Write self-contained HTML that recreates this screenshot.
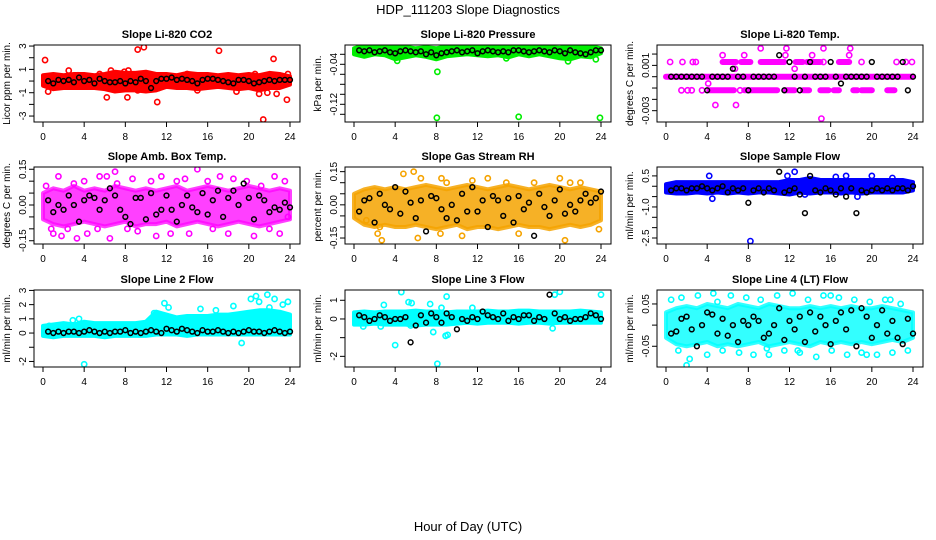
<!DOCTYPE html>
<html><head><meta charset="utf-8">
<style>
html,body{margin:0;padding:0;background:#fff;}
svg{display:block;font-family:"Liberation Sans",Arial,sans-serif;}
</style></head>
<body>
<svg id="chart" width="936" height="540" viewBox="0 0 936 540" xmlns="http://www.w3.org/2000/svg">
<rect x="0" y="0" width="936" height="540" fill="#fff"/>
<text x="468" y="14" font-size="13" text-anchor="middle">HDP_111203  Slope Diagnostics</text>
<text x="468" y="531" font-size="13" text-anchor="middle">Hour of Day (UTC)</text>
</svg>
<script>
// shared hours
const bandHours = [0,1,2,3,4,5,6,7,8,9,10,11,12,13,14,15,16,17,18,19,20,21,22,23,24];
const blkHours = [0.5,1,1.5,2,2.5,3,3.5,4,4.5,5,5.5,6,6.5,7,7.5,8,8.5,9,9.5,10,10.5,11,11.5,12,12.5,13,13.5,14,14.5,15,15.5,16,16.5,17,17.5,18,18.5,19,19.5,20,20.5,21,21.5,22,22.5,23,23.5,24];
const xTicks = [0,4,8,12,16,20,24];

// Panel 1: Li-820 CO2
const p1Hi = [0.5,0.6,0.5,0.6,0.6,0.5,0.6,0.8,0.7,0.7,0.8,0.6,0.6,0.5,0.7,0.6,0.6,0.5,0.6,0.5,0.6,0.5,0.7,0.6,0.4];
const p1Lo = [-0.4,-0.7,-0.6,-0.6,-0.6,-0.6,-0.7,-0.9,-0.8,-0.8,-0.9,-0.8,-0.5,-0.6,-0.6,-0.7,-0.6,-0.5,-0.6,-0.7,-0.6,-0.8,-0.6,-0.6,-0.3];
const p1PtH = [0.2,0.5,2.5,6.2,6.6,8.2,8.3,9.2,9.8,9.2,11.1,11.2,17.1,18.8,21,21.4,22.4,22.7,23.7,21.8,23.8,5.5,14,20.6,15,3.4,7.9];
const p1PtV = [1.8,-0.9,0.9,-1.4,0.9,-1.4,0.9,2.7,2.9,-0.8,-1.8,-0.6,2.6,-0.9,-1.1,-3.3,1.9,-1.1,-1.6,-1.0,0.6,0.6,0.6,0.6,-0.8,0.5,0.8];
const p1Blk = [0.0,-0.2,0.1,0.0,0.1,-0.1,0.3,0.0,0.1,-0.2,0.2,0.0,-0.1,-0.1,0.0,-0.2,0.0,-0.1,0.2,0.0,-0.6,0.0,0.2,0.2,0.3,0.1,0.2,0.1,0.0,-0.2,0.1,0.2,0.2,0.1,0.0,-0.1,-0.2,0.1,0.1,0.0,-0.2,-0.1,0.0,0.1,0.0,0.1,0.1,0.1];
const p1Ticks = [-3,-2,-1,0,1,2,3];
const p1Labels = ["-3","","-1","","1","","3"];

// Panel 2: Li-820 Pressure
const p2Hi = [-0.008,-0.002,-0.004,-0.002,-0.004,-0.005,-0.008,-0.006,-0.008,-0.004,-0.006,-0.006,-0.004,-0.002,-0.004,-0.006,-0.002,-0.006,-0.005,-0.006,-0.007,-0.002,-0.003,-0.004,-0.008];
const p2Lo = [-0.02,-0.025,-0.02,-0.022,-0.03,-0.026,-0.022,-0.025,-0.03,-0.024,-0.022,-0.02,-0.022,-0.024,-0.022,-0.026,-0.02,-0.024,-0.02,-0.024,-0.028,-0.03,-0.024,-0.026,-0.018];
const p2PtH = [8.1,8.05,16,23.9,4.2,20.8,23.5,14.8,1.0,21.7];
const p2PtV = [-0.055,-0.147,-0.145,-0.147,-0.033,-0.034,-0.03,-0.028,0.0,0.0];
const p2Blk = [-0.012,-0.014,-0.012,-0.016,-0.014,-0.012,-0.016,-0.018,-0.014,-0.012,-0.014,-0.016,-0.014,-0.02,-0.016,-0.022,-0.018,-0.016,-0.014,-0.012,-0.016,-0.014,-0.012,-0.018,-0.014,-0.012,-0.014,-0.016,-0.014,-0.016,-0.012,-0.012,-0.014,-0.016,-0.014,-0.012,-0.014,-0.016,-0.012,-0.014,-0.018,-0.012,-0.016,-0.018,-0.020,-0.016,-0.012,-0.012];
const p2Ticks = [-0.14,-0.12,-0.10,-0.08,-0.06,-0.04,-0.02];
const p2Labels = ["","-0.12","","","","-0.04",""];

// Panel 3: Li-820 Temp (quantized)
const p3RunStart = [0,5.5,7.3,9.2,12.6,13.7,16.8,4.2,7.6,11.6,13.3,15,16.3,18.2,19,21.5];
const p3RunEnd = [24,6.8,8.2,11.5,13.3,15,17.8,6.6,10.8,12.5,13.9,15.8,16.8,18.6,20,22.2];
const p3RunLevel = [0,0.0013,0.0013,0.0013,0.0013,0.0013,0.0013,-0.0012,-0.0012,-0.0012,-0.0012,-0.0012,-0.0012,-0.0012,-0.0012,-0.0012];
const p3PtH = [0.4,1.6,2.6,2.9,15.3,19,22.4,23.3,5.5,7.6,11.6,14.2,17.8,9.2,11.7,15.3,17.9,6.7,12.5,1.5,2.1,2.5,3.5,7.2,4.1,4.8,6.8,15.1,23.9];
const p3PtV = [0.0013,0.0013,0.0013,0.0013,0.0013,0.0013,0.0013,0.0013,0.0019,0.0019,0.0019,0.0019,0.0019,0.0025,0.0025,0.0025,0.0025,0.0007,0.0007,-0.0012,-0.0012,-0.0012,-0.0012,-0.0012,-0.0006,-0.0025,-0.0025,-0.0037,0.0013];
const p3Blk = [0,0,0,0,0,0,0,-0.0012,0,0,0,0,0.0007,0,0,-0.0012,0,0,0,0,0,0.0019,-0.0012,0.0013,0,-0.0012,0,0.0013,0,0,0,0.0013,0,-0.0006,0,0,0,0,0,0.0013,0,0,0,0,0,0.0013,-0.0012,0];
const p3Ticks = [-0.003,-0.002,-0.001,0,0.001,0.002];
const p3Labels = ["-0.003","","","","0.001",""];

// Panel 4: Amb. Box Temp
const p4Hi = [0.05,0.07,0.06,0.08,0.06,0.07,0.06,0.08,0.07,0.06,0.07,0.06,0.07,0.08,0.06,0.07,0.08,0.07,0.06,0.07,0.08,0.07,0.06,0.07,0.06];
const p4Lo = [-0.06,-0.08,-0.09,-0.08,-0.07,-0.08,-0.09,-0.08,-0.07,-0.09,-0.08,-0.08,-0.07,-0.09,-0.08,-0.07,-0.08,-0.09,-0.08,-0.07,-0.08,-0.09,-0.08,-0.07,-0.06];
const p4PtH = [0.3,0.8,1,1.5,1.8,2.4,3,3.3,4,4.3,5.3,5.5,6.2,6.5,7,7.2,8.2,8.7,9.2,10.5,11,11.5,12.4,13,13.8,14.2,15,16,16.5,17.2,18,18.5,19.8,20.5,21.2,22,22.5,23,23.5,23.8];
const p4PtV = [0.08,-0.1,-0.12,0.12,-0.13,-0.1,0.09,-0.14,0.1,-0.12,-0.1,0.12,0.12,-0.14,0.14,0.09,-0.1,0.11,-0.11,0.1,-0.13,0.12,-0.12,0.1,0.11,-0.12,0.15,0.1,-0.1,0.12,-0.12,0.11,0.1,-0.13,0.08,-0.1,0.12,-0.12,0.1,-0.05];
const p4Blk = [0.02,-0.03,0.0,-0.02,0.04,0.0,-0.07,0.02,0.04,0.03,-0.02,0.02,0.07,0.04,-0.02,-0.05,-0.08,0.03,0.03,-0.06,0.05,-0.04,-0.02,0.04,-0.02,-0.07,0.0,0.04,-0.01,-0.03,0.05,-0.04,0.02,0.06,-0.05,0.03,0.06,0.0,0.09,0.03,-0.06,0.04,0.02,-0.03,-0.01,-0.02,0.01,-0.01];
const p4Ticks = [-0.15,-0.10,-0.05,0,0.05,0.10,0.15];
const p4Labels = ["-0.15","","","0.00","","","0.15"];

// Panel 5: Gas Stream RH
const p5Hi = [0.05,0.07,0.08,0.07,0.08,0.07,0.08,0.09,0.08,0.07,0.08,0.09,0.08,0.07,0.08,0.09,0.08,0.07,0.08,0.09,0.08,0.07,0.08,0.07,0.06];
const p5Lo = [-0.06,-0.09,-0.1,-0.09,-0.1,-0.1,-0.09,-0.1,-0.11,-0.1,-0.09,-0.11,-0.1,-0.1,-0.11,-0.1,-0.09,-0.1,-0.1,-0.11,-0.1,-0.09,-0.1,-0.09,-0.07];
const p5PtH = [1.2,2.3,2.7,2.5,4.8,5.8,6.2,6.5,8.5,9,11.5,8.4,10.5,13,14.8,16,17.5,20,20.5,21,23.8,22];
const p5PtV = [-0.07,-0.13,-0.16,-0.1,0.14,0.15,-0.15,0.12,0.12,0.1,0.11,-0.13,-0.14,0.12,0.1,-0.13,0.1,0.12,-0.16,0.1,-0.11,0.1];
const p5Blk = [-0.03,0.02,0.03,-0.08,0.05,0.0,-0.02,0.08,-0.04,0.06,0.01,-0.06,0.02,-0.12,0.04,0.03,-0.02,-0.06,0.0,-0.07,0.05,-0.03,0.08,-0.03,0.02,-0.1,0.04,0.02,-0.05,0.03,-0.08,0.04,-0.02,0.01,-0.14,0.05,-0.01,-0.05,0.02,0.07,-0.04,0.0,-0.03,0.02,0.05,0.01,0.03,0.06];
const p5Ticks = [-0.15,-0.10,-0.05,0,0.05,0.10,0.15];
const p5Labels = ["-0.15","","","0.00","","","0.15"];

// Panel 6: Sample Flow
const p6Hi = [0.1,0.2,0.2,0.2,0.2,0.2,0.2,0.2,0.2,0.2,0.2,0.2,0.3,0.3,0.4,0.3,0.3,0.3,0.3,0.3,0.3,0.3,0.3,0.3,0.2];
const p6Lo = [-0.3,-0.35,-0.35,-0.3,-0.35,-0.3,-0.35,-0.3,-0.35,-0.3,-0.3,-0.35,-0.4,-0.3,-0.35,-0.3,-0.3,-0.35,-0.3,-0.35,-0.3,-0.3,-0.3,-0.3,-0.2];
const p6PtH = [8.2,11.8,12.5,17.5,4.2,4.5,13.5,20,22,16.5,18.6];
const p6PtV = [-2.65,0.5,0.7,0.5,0.5,-0.6,-0.4,0.5,0.4,0.45,-0.5];
const p6Blk = [-0.2,-0.1,-0.1,-0.2,-0.1,-0.1,0.0,-0.1,-0.2,-0.1,0.0,-0.3,-0.1,-0.2,-0.1,-0.8,-0.2,-0.1,-0.3,-0.1,-0.2,0.7,-0.3,-0.2,-0.1,-0.4,-1.3,0.5,-0.2,-0.3,-0.1,-0.2,-0.4,-0.1,-0.5,-0.1,-1.3,-0.2,-0.3,-0.2,-0.1,-0.2,-0.1,-0.2,-0.1,-0.1,-0.2,0.0];
const p6Ticks = [-2.5,-2.0,-1.5,-1.0,-0.5,0,0.5];
const p6Labels = ["-2.5","","","-1.0","","","0.5"];

// Panel 7: Line 2 Flow
const p7Hi = [0.5,0.6,0.7,0.6,0.8,0.7,0.7,0.7,0.7,0.7,0.8,1.5,1.3,1.1,1.2,1.2,1.2,1.3,1.3,1.4,1.5,1.6,1.6,1.5,1.3];
const p7Lo = [-0.2,-0.3,-0.2,-0.2,-0.2,-0.2,-0.3,-0.2,-0.2,-0.2,-0.2,-0.1,-0.1,-0.1,-0.2,-0.1,-0.1,-0.1,-0.1,-0.1,-0.1,-0.1,-0.1,-0.1,-0.1];
const p7PtH = [4,11.8,12.2,15.3,20.2,21,21.8,22.5,23.3,23.8,19.3,20.7,22,10.8,2.9,3.5,0.6,18.5,16.8];
const p7PtV = [-2.2,2.1,1.8,1.7,2.4,2.2,2.7,2.4,2.0,2.2,-0.7,2.6,1.8,1.4,0.9,1.0,0.5,1.9,1.6];
const p7Blk = [0.1,0.0,0.1,0.0,0.1,0.1,0.0,0.1,0.2,0.1,0.0,0.1,0.0,0.1,0.1,0.2,0.0,0.1,0.0,0.1,0.2,0.1,0.0,0.3,0.2,0.1,0.3,0.2,0.1,0.0,0.2,0.1,0.1,0.2,0.1,0.0,0.1,0.0,0.1,0.2,0.1,0.1,0.0,0.1,0.2,0.1,0.0,0.1];
const p7Ticks = [-2,-1,0,1,2,3];
const p7Labels = ["-2","","0","1","2","3"];

// Panel 8: Line 3 Flow
const p8Hi = [0.35,0.4,0.35,0.4,0.4,0.4,0.45,0.4,0.4,0.35,0.4,0.4,0.4,0.45,0.4,0.4,0.45,0.45,0.4,0.4,0.4,0.4,0.45,0.4,0.35];
const p8Lo = [-0.3,-0.3,-0.25,-0.3,-0.3,-0.3,-0.35,-0.3,-0.3,-0.3,-0.25,-0.2,-0.25,-0.2,-0.2,-0.2,-0.25,-0.2,-0.2,-0.25,-0.2,-0.2,-0.2,-0.2,-0.2];
const p8PtH = [4.6,2.9,5.3,5.6,7.4,9,8.5,11.5,19.5,20,24,4,8.1,8.9,9.1,7.7,19.3,2.6,0.9,5.5];
const p8PtV = [1.44,0.75,0.9,0.85,0.8,1.2,0.6,0.6,1.3,1.45,1.3,-1.4,-2.4,-0.9,-0.85,-0.7,-0.5,-0.4,-0.4,-0.35];
const p8Blk = [0.2,0.1,-0.1,0.0,0.2,0.1,-0.1,0.0,0.0,0.1,-1.25,-0.35,0.2,-0.2,0.3,0.1,-0.2,0.3,0.1,-0.55,0.0,-0.1,0.1,0.0,0.4,0.2,0.1,0.0,0.3,-0.1,0.1,0.0,0.2,0.2,-0.1,0.1,0.0,1.3,0.3,0.0,0.1,-0.1,0.0,0.0,0.1,0.3,0.2,0.0];
const p8Ticks = [-2,-1,0,1];
const p8Labels = ["-2","","0","1"];

// Panel 9: Line 4 (LT) Flow
const p9Hi = [0.03,0.04,0.045,0.04,0.05,0.045,0.04,0.05,0.045,0.04,0.05,0.045,0.04,0.04,0.045,0.04,0.045,0.04,0.045,0.04,0.04,0.045,0.04,0.035,0.03];
const p9Lo = [-0.03,-0.045,-0.05,-0.045,-0.04,-0.05,-0.045,-0.05,-0.045,-0.04,-0.05,-0.045,-0.04,-0.045,-0.05,-0.04,-0.045,-0.04,-0.045,-0.04,-0.045,-0.04,-0.035,-0.04,-0.03];
const p9PtH = [0.5,1.2,1.5,2.3,3.1,4,4.6,5.5,6.3,7.1,7.8,8.5,9.2,10,10.8,11.5,12.3,13,13.8,14.6,15.3,16.1,16.8,17.6,18.3,19,19.8,20.5,21.3,22,22.8,23.5,2,5,9.8,12.8,16,19.5,21.8];
const p9PtV = [0.06,-0.06,0.065,-0.08,0.07,-0.07,0.075,-0.06,0.07,-0.065,0.065,-0.07,0.06,-0.07,0.07,-0.06,0.075,-0.065,0.06,-0.075,0.07,-0.06,0.065,-0.07,0.06,-0.065,0.055,-0.07,0.06,-0.065,0.05,-0.06,-0.095,0.055,-0.055,-0.06,0.07,-0.07,0.06];
const p9Blk = [-0.02,-0.015,0.015,0.02,-0.01,-0.05,0.0,0.03,0.025,-0.02,0.015,-0.025,0.0,-0.04,0.01,0.0,0.02,0.01,-0.03,-0.02,0.0,0.04,-0.035,0.01,-0.01,0.02,-0.04,0.03,-0.015,0.02,0.0,-0.045,0.01,0.03,-0.01,0.035,-0.05,0.04,0.02,-0.03,0.0,0.035,-0.02,0.01,-0.03,-0.045,0.015,-0.02];
const p9Ticks = [-0.05,0,0.05];
const p9Labels = ["-0.05","","0.05"];

const NS = "http://www.w3.org/2000/svg";
const svg = document.getElementById('chart');
function mk(tag, attrs, parent){
  const e = document.createElementNS(NS, tag);
  for (const k in attrs) e.setAttribute(k, attrs[k]);
  (parent||svg).appendChild(e);
  return e;
}

const colLeft = [34,345,657];
const rowTop = [45,167,290];
const PW = 266, PH = 77;

function drawPanel(cfg){
  const L = colLeft[cfg.col], T = rowTop[cfg.row];
  const xs = h => L + 9 + h * (247/24);
  const ys = v => T + (cfg.ymax - v) / (cfg.ymax - cfg.ymin) * PH;
  const g = mk('g', {});
  
  

  const title = mk('text', {x: L + PW/2, y: T - 7, 'font-size': 11, 'font-weight': 'bold', 'text-anchor': 'middle'}, g);
  title.textContent = cfg.title;
  
  

  const clip = mk('clipPath', {id: 'clip-' + cfg.name}, g);
  mk('rect', {x: L, y: T, width: PW, height: PH}, clip);
  const plot = mk('g', {'clip-path': 'url(#clip-' + cfg.name + ')'}, g);

  if (cfg.hi) {
    let d = '';
    bandHours.forEach((h,i) => { d += (i ? 'L' : 'M') + xs(h).toFixed(1) + ',' + ys(cfg.hi[i]).toFixed(1); });
    for (let i = bandHours.length - 1; i >= 0; i--) d += 'L' + xs(bandHours[i]).toFixed(1) + ',' + ys(cfg.lo[i]).toFixed(1);
    d += 'Z';
    const band = mk('path', {d: d, fill: cfg.color, 'fill-opacity': cfg.op || 1, stroke: cfg.color, 'stroke-opacity': cfg.op || 1, 'stroke-width': 4, 'stroke-linejoin': 'round'}, plot);
    
    
  }
  if (cfg.runS) {
    cfg.runS.forEach((s,i) => {
      const r = mk('line', {x1: xs(s), x2: xs(cfg.runE[i]), y1: ys(cfg.runL[i]), y2: ys(cfg.runL[i]), stroke: cfg.color, 'stroke-width': 6, 'stroke-linecap': 'round'}, plot);
      
      
    });
  }
  cfg.ptH.forEach((h,i) => {
    const c = mk('circle', {cx: xs(h), cy: ys(cfg.ptV[i]), r: 2.6, fill: 'none', stroke: cfg.color, 'stroke-width': 1.6}, plot);
    
    
  });
  blkHours.forEach((h,i) => {
    const c = mk('circle', {cx: xs(h), cy: ys(cfg.blk[i]), r: 2.4, fill: 'none', stroke: '#000', 'stroke-width': 1.5}, plot);
    
    
  });

  const box = mk('rect', {x: L, y: T, width: PW, height: PH, fill: 'none', stroke: '#000', 'stroke-width': 1}, g);
  
  

  mk('line', {x1: xs(0), x2: xs(24), y1: T + PH, y2: T + PH, stroke: '#000'}, g);
  xTicks.forEach(t => {
    mk('line', {x1: xs(t), x2: xs(t), y1: T + PH, y2: T + PH + 5, stroke: '#000'}, g);
    const lab = mk('text', {x: xs(t), y: T + PH + 18, 'font-size': 10, 'text-anchor': 'middle'}, g);
    lab.textContent = t;
    
    
  });
  mk('line', {x1: L, x2: L, y1: ys(cfg.ticks[0]), y2: ys(cfg.ticks[cfg.ticks.length-1]), stroke: '#000'}, g);
  cfg.ticks.forEach((t,i) => {
    mk('line', {x1: L - 5, x2: L, y1: ys(t), y2: ys(t), stroke: '#000'}, g);
    if (cfg.labels[i]) {
      const yy = ys(t);
      const lab = mk('text', {x: L - 8, y: yy, 'font-size': 10, 'text-anchor': 'middle', transform: 'rotate(-90 ' + (L - 8) + ' ' + yy + ')'}, g);
      lab.textContent = cfg.labels[i];
      
      
    }
  });
  const yt = mk('text', {x: L - 24, y: T + PH/2, 'font-size': 10, 'text-anchor': 'middle', transform: 'rotate(-90 ' + (L - 24) + ' ' + (T + PH/2) + ')'}, g);
  yt.textContent = cfg.ytitle;
  
  
}

drawPanel({name:'panel-co2', title:'Slope Li-820 CO2', ytitle:'Licor ppm per min.', row:0, col:0, ymin:-3.51, ymax:3.09, color:'#ff0000', hi:p1Hi, lo:p1Lo, ptH:p1PtH, ptV:p1PtV, blk:p1Blk, ticks:p1Ticks, labels:p1Labels});
drawPanel({name:'panel-pressure', title:'Slope Li-820 Pressure', ytitle:'kPa per min.', row:0, col:1, ymin:-0.1554, ymax:-0.0014, color:'#00ee00', hi:p2Hi, lo:p2Lo, ptH:p2PtH, ptV:p2PtV, blk:p2Blk, ticks:p2Ticks, labels:p2Labels});
drawPanel({name:'panel-li820-temp', title:'Slope Li-820 Temp.', ytitle:'degrees C per min.', row:0, col:2, ymin:-0.0040, ymax:0.0028, color:'#ff00ff', runS:p3RunStart, runE:p3RunEnd, runL:p3RunLevel, ptH:p3PtH, ptV:p3PtV, blk:p3Blk, ticks:p3Ticks, labels:p3Labels});
drawPanel({name:'panel-box-temp', title:'Slope Amb. Box Temp.', ytitle:'degrees C per min.', row:1, col:0, ymin:-0.1637, ymax:0.1595, color:'#ff00ff', op:0.75, hi:p4Hi, lo:p4Lo, ptH:p4PtH, ptV:p4PtV, blk:p4Blk, ticks:p4Ticks, labels:p4Labels});
drawPanel({name:'panel-rh', title:'Slope Gas Stream RH', ytitle:'percent per min.', row:1, col:1, ymin:-0.177, ymax:0.171, color:'#f5a300', op:0.85, hi:p5Hi, lo:p5Lo, ptH:p5PtH, ptV:p5PtV, blk:p5Blk, ticks:p5Ticks, labels:p5Labels});
drawPanel({name:'panel-sample-flow', title:'Slope Sample Flow', ytitle:'ml/min per min.', row:1, col:2, ymin:-2.79, ymax:0.93, color:'#0000ff', hi:p6Hi, lo:p6Lo, ptH:p6PtH, ptV:p6PtV, blk:p6Blk, ticks:p6Ticks, labels:p6Labels});
drawPanel({name:'panel-line2-flow', title:'Slope Line 2 Flow', ytitle:'ml/min per min.', row:2, col:0, ymin:-2.39, ymax:3.03, color:'#00ffff', hi:p7Hi, lo:p7Lo, ptH:p7PtH, ptV:p7PtV, blk:p7Blk, ticks:p7Ticks, labels:p7Labels});
drawPanel({name:'panel-line3-flow', title:'Slope Line 3 Flow', ytitle:'ml/min per min.', row:2, col:1, ymin:-2.57, ymax:1.55, color:'#00ffff', hi:p8Hi, lo:p8Lo, ptH:p8PtH, ptV:p8PtV, blk:p8Blk, ticks:p8Ticks, labels:p8Labels});
drawPanel({name:'panel-line4-flow', title:'Slope Line 4 (LT) Flow', ytitle:'ml/min per min.', row:2, col:2, ymin:-0.099, ymax:0.083, color:'#00ffff', op:0.8, hi:p9Hi, lo:p9Lo, ptH:p9PtH, ptV:p9PtV, blk:p9Blk, ticks:p9Ticks, labels:p9Labels});
</script>
</body></html>
